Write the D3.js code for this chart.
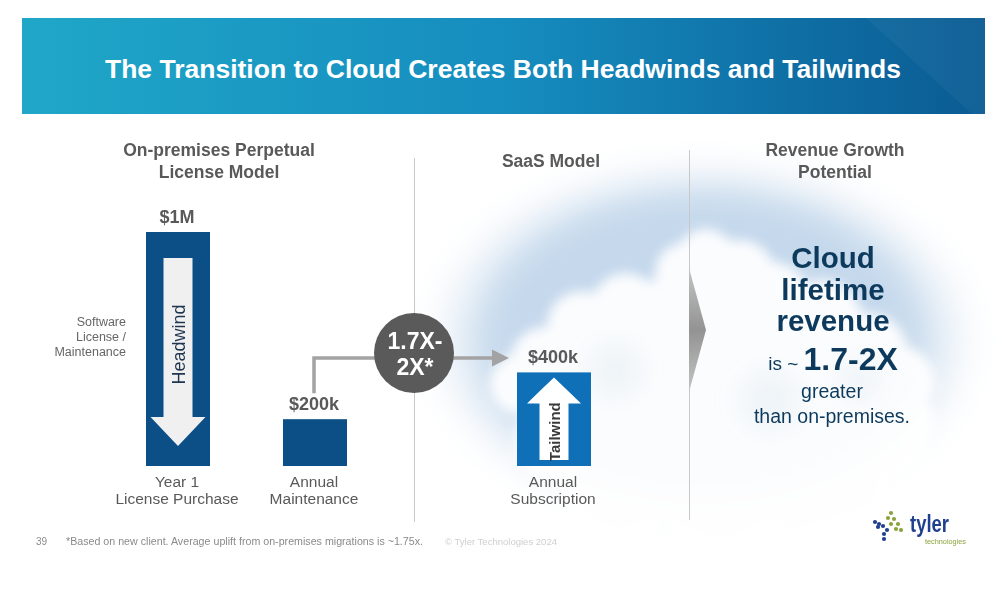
<!DOCTYPE html>
<html>
<head>
<meta charset="utf-8">
<script src="https://cdn.jsdelivr.net/npm/d3@7"></script>
<style>
  html, body { margin: 0; padding: 0; background: #fff; }
  svg { display: block; font-family: "Liberation Sans", Arial, sans-serif; }
</style>
</head>
<body>
<svg id="slide" width="1008" height="610"></svg>
<script>
// data
const title = "The Transition to Cloud Creates Both Headwinds and Tailwinds";
const sectionTitles = [["On-premises Perpetual", "License Model"], ["SaaS Model"], ["Revenue Growth", "Potential"]];
const barNames = ["Year 1 License Purchase", "Annual Maintenance", "Annual Subscription"];
const barValues = [1000, 200, 400]; // $k
const barValueLabels = ["$1M", "$200k", "$400k"];
const barLabelLines = [["Year 1", "License Purchase"], ["Annual", "Maintenance"], ["Annual", "Subscription"]];
const axisLabelLines = ["Software", "License /", "Maintenance"];
const arrowWords = ["Headwind", "Tailwind"];
const multipleLines = ["1.7X-", "2X*"];
const messageBold = ["Cloud", "lifetime", "revenue"];
const messageIs = ["is ~ ", "1.7-2X"];
const messageTail = ["greater", "than on-premises."];
const footnote = "*Based on new client. Average uplift from on-premises migrations is ~1.75x.";
const pageNumber = "39";
const copyright = "\u00A9 Tyler Technologies 2024";

const svg = d3.select("#slide");
const defs = svg.append("defs");

// banner gradient
const bg = defs.append("linearGradient").attr("id", "banner").attr("x1", 0).attr("x2", 1).attr("y1", 0).attr("y2", 0);
bg.append("stop").attr("offset", "0%").attr("stop-color", "#1fa7c8");
bg.append("stop").attr("offset", "50%").attr("stop-color", "#168dbf");
bg.append("stop").attr("offset", "100%").attr("stop-color", "#0a5b93");

const sky = defs.append("radialGradient").attr("id", "sky");
sky.append("stop").attr("offset", "0%").attr("stop-color", "#c2d6eb");
sky.append("stop").attr("offset", "72%").attr("stop-color", "#c6d9ec");
sky.append("stop").attr("offset", "100%").attr("stop-color", "#ffffff").attr("stop-opacity", 0);

const blur = defs.append("filter").attr("id", "blur").attr("x", "-50%").attr("y", "-50%").attr("width", "200%").attr("height", "200%");
blur.append("feGaussianBlur").attr("stdDeviation", 14);
const blur2 = defs.append("filter").attr("id", "blur2").attr("x", "-30%").attr("y", "-30%").attr("width", "160%").attr("height", "160%");
blur2.append("feGaussianBlur").attr("stdDeviation", 6);

const chev = defs.append("linearGradient").attr("id", "chev").attr("x1", 0).attr("x2", 0).attr("y1", 0).attr("y2", 1);
chev.append("stop").attr("offset", "0%").attr("stop-color", "#c4c4c4");
chev.append("stop").attr("offset", "50%").attr("stop-color", "#939393");
chev.append("stop").attr("offset", "100%").attr("stop-color", "#c4c4c4");

// banner
svg.append("rect").attr("x", 22).attr("y", 18).attr("width", 963).attr("height", 96).attr("fill", "url(#banner)");
svg.append("polygon").attr("points", "866,18 985,18 985,114 972,114").attr("fill", "#ffffff").attr("opacity", 0.04);
svg.append("text").attr("x", 503).attr("y", 78).attr("text-anchor", "middle")
  .attr("font-size", 26.5).attr("font-weight", "bold").attr("fill", "#fff").text(title);

// cloud backdrop
const cloud = svg.append("g");
cloud.append("ellipse").attr("cx", 702).attr("cy", 340).attr("rx", 295).attr("ry", 195)
  .attr("fill", "url(#sky)").attr("filter", "url(#blur)");
const puffs = cloud.append("g").attr("filter", "url(#blur2)").attr("fill", "#fff").attr("opacity", 0.93);
[[520, 384, 30], [545, 362, 35], [582, 326, 35], [626, 308, 35], [685, 273, 30], [706, 259, 30],
 [740, 275, 35], [773, 297, 35], [822, 320, 40], [868, 353, 40], [900, 381, 35], [905, 420, 30],
 [600, 420, 75], [700, 380, 90], [800, 380, 85], [880, 430, 50], [620, 480, 60], [720, 480, 70],
 [820, 480, 70], [560, 440, 45], [660, 330, 50], [760, 330, 55]]
  .forEach(p => puffs.append("circle").attr("cx", p[0]).attr("cy", p[1]).attr("r", p[2]));
const shade = cloud.append("g").attr("filter", "url(#blur)").attr("fill", "#d9e4ef");
[[615, 370, 24], [770, 400, 26], [860, 380, 18]]
  .forEach(p => shade.append("circle").attr("cx", p[0]).attr("cy", p[1]).attr("r", p[2]).attr("opacity", 0.4));

// dividers
svg.append("line").attr("x1", 414.5).attr("x2", 414.5).attr("y1", 158).attr("y2", 522).attr("stroke", "#c8c8c8");
svg.append("line").attr("x1", 689.5).attr("x2", 689.5).attr("y1", 150).attr("y2", 520).attr("stroke", "#c8c8c8");
svg.append("polygon").attr("points", "689,268 706,330 689,392").attr("fill", "url(#chev)");

// section titles
const sectionX = [219, 551, 835];
const sectionY = [156, 167, 156];
sectionTitles.forEach((lines, i) => {
  const t = svg.append("text").attr("text-anchor", "middle").attr("font-size", 17.5)
    .attr("font-weight", "bold").attr("fill", "#595959");
  lines.forEach((l, j) => t.append("tspan").attr("x", sectionX[i]).attr("y", sectionY[i] + j * 22).text(l));
});

// scales
const x = d3.scaleOrdinal().domain(barNames).range([178, 315, 554]);
const w = d3.scaleOrdinal().domain(barNames).range([64, 64, 74]);
const color = d3.scaleOrdinal().domain(barNames).range(["#0b4f86", "#0b4f86", "#0f70b7"]);
const y = d3.scaleLinear().domain([0, 1000]).range([466, 232]);

const bars = barNames.map((n, i) => ({ name: n, value: barValues[i], label: barValueLabels[i], lines: barLabelLines[i] }));

svg.selectAll("rect.bar").data(bars).enter().append("rect")
  .attr("class", "bar")
  .attr("x", d => x(d.name) - w(d.name) / 2)
  .attr("y", d => y(d.value))
  .attr("width", d => w(d.name))
  .attr("height", d => y(0) - y(d.value))
  .attr("fill", d => color(d.name));

svg.selectAll("text.val").data(bars).enter().append("text")
  .attr("class", "val")
  .attr("x", d => x(d.name) - 1)
  .attr("y", d => y(d.value) - 9)
  .attr("text-anchor", "middle").attr("font-size", 18).attr("font-weight", "bold").attr("fill", "#595959")
  .text(d => d.label);

svg.selectAll("text.cat").data(bars).enter().append("text")
  .attr("class", "cat")
  .attr("text-anchor", "middle").attr("font-size", 15.5).attr("fill", "#595959")
  .each(function (d) {
    d.lines.forEach((l, j) => d3.select(this).append("tspan")
      .attr("x", x(d.name) - 1).attr("y", y(0) + 21 + j * 17).text(l));
  });

// left axis label
const al = svg.append("text").attr("text-anchor", "end").attr("font-size", 12.5).attr("fill", "#666");
axisLabelLines.forEach((l, j) => al.append("tspan").attr("x", 126).attr("y", 326 + j * 15).text(l));

// headwind arrow (down) inside first bar
const b0 = bars[0];
const cx0 = x(b0.name), top0 = y(b0.value) + 26, tip0 = y(0) - 20;
svg.append("polygon").attr("fill", "#f0f0f0").attr("points", [
  [cx0 - 14.5, top0], [cx0 + 14.5, top0], [cx0 + 14.5, tip0 - 29], [cx0 + 27.5, tip0 - 29],
  [cx0, tip0], [cx0 - 27.5, tip0 - 29], [cx0 - 14.5, tip0 - 29]].join(" "));
svg.append("text").attr("transform", `translate(${cx0 + 1},${(top0 + tip0 - 29) / 2 + 7}) rotate(-90)`)
  .attr("text-anchor", "middle").attr("dominant-baseline", "central")
  .attr("font-size", 18).attr("fill", "#1f3550").text(arrowWords[0]);

// tailwind arrow (up) inside third bar
const b2 = bars[2];
const cx2 = x(b2.name), tip2 = y(b2.value) + 5, bot2 = y(0) - 6;
svg.append("polygon").attr("fill", "#fff").attr("points", [
  [cx2, tip2], [cx2 + 27, tip2 + 26], [cx2 + 14.5, tip2 + 26], [cx2 + 14.5, bot2],
  [cx2 - 14.5, bot2], [cx2 - 14.5, tip2 + 26], [cx2 - 27, tip2 + 26]].join(" "));
svg.append("text").attr("transform", `translate(${cx2},${(tip2 + 26 + bot2) / 2}) rotate(-90)`)
  .attr("text-anchor", "middle").attr("dominant-baseline", "central")
  .attr("font-size", 15).attr("font-weight", "bold").attr("fill", "#3a3a3a").text(arrowWords[1]);

// connector from maintenance to subscription
const lineY = 358, circ = { cx: 414, cy: 353, r: 40 };
const b1 = bars[1];
svg.append("path").attr("fill", "none").attr("stroke", "#a3a3a3").attr("stroke-width", 3.5)
  .attr("d", `M${x(b1.name) - 1},${y(b1.value) - 26} V${lineY} H${x(b2.name) - 62}`);
svg.append("polygon").attr("fill", "#a3a3a3").attr("points", [
  [x(b2.name) - 62, lineY - 8.5], [x(b2.name) - 45, lineY], [x(b2.name) - 62, lineY + 8.5]].join(" "));
svg.append("circle").attr("cx", circ.cx).attr("cy", circ.cy).attr("r", circ.r).attr("fill", "#5a5a5a");
const mt = svg.append("text").attr("text-anchor", "middle").attr("font-size", 23).attr("font-weight", "bold").attr("fill", "#fff");
multipleLines.forEach((l, j) => mt.append("tspan").attr("x", circ.cx + 1).attr("y", 349 + j * 26).text(l));

// right message
const navy = "#0d3a5c";
const msg = svg.append("g").attr("text-anchor", "middle").attr("fill", navy);
messageBold.forEach((t, j) => msg.append("text").attr("x", 833).attr("y", 268 + j * 31.5)
  .attr("font-size", 29.5).attr("font-weight", "bold").text(t));
const isLine = msg.append("text").attr("x", 833).attr("y", 370);
isLine.append("tspan").attr("font-size", 19).text(messageIs[0]);
isLine.append("tspan").attr("font-size", 32).attr("font-weight", "bold").text(messageIs[1]);
messageTail.forEach((t, j) => msg.append("text").attr("x", 832).attr("y", 398 + j * 25)
  .attr("font-size", 19.5).text(t));

// footer
svg.append("text").attr("x", 36).attr("y", 545).attr("font-size", 10).attr("fill", "#8a8a8a").text(pageNumber);
svg.append("text").attr("x", 66).attr("y", 545).attr("font-size", 10).attr("fill", "#8a8a8a")
  .attr("textLength", 357).attr("lengthAdjust", "spacingAndGlyphs").text(footnote);
svg.append("text").attr("x", 445).attr("y", 545).attr("font-size", 9.5).attr("fill", "#cfcfcf")
  .attr("textLength", 112).attr("lengthAdjust", "spacingAndGlyphs").text(copyright);

// tyler logo
const logo = svg.append("g");
[[875, 522, "#1f3f8f"], [879, 524, "#1f3f8f"], [883, 526, "#1f3f8f"], [887, 530, "#1f3f8f"], [884, 534, "#1f3f8f"],
 [884, 539, "#1f3f8f"], [878, 527, "#1f3f8f"],
 [891, 513, "#8aa33b"], [888, 518, "#8aa33b"], [894, 519, "#8aa33b"], [891, 524, "#8aa33b"], [898, 524, "#8aa33b"],
 [896, 529, "#8aa33b"], [901, 530, "#8aa33b"]]
  .forEach(d => logo.append("circle").attr("cx", d[0]).attr("cy", d[1]).attr("r", 2.1).attr("fill", d[2]));
logo.append("text").attr("x", 910).attr("y", 532).attr("font-size", 23).attr("font-weight", "bold")
  .attr("fill", "#1f3f8f").attr("textLength", 39).attr("lengthAdjust", "spacingAndGlyphs").text("tyler");
logo.append("text").attr("x", 925).attr("y", 544).attr("font-size", 7).attr("fill", "#8aa33b")
  .attr("textLength", 41).attr("lengthAdjust", "spacingAndGlyphs").text("technologies");
</script>
</body>
</html>
